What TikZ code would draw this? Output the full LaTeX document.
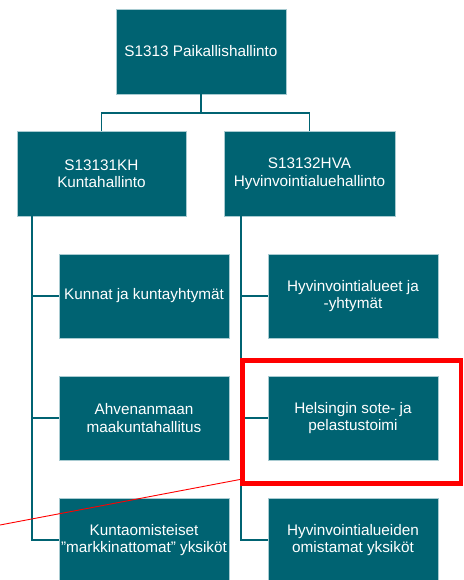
\documentclass[tikz,border=0pt]{standalone}
\usepackage{fontspec}
\setmainfont{Liberation Sans}
\definecolor{teal1}{HTML}{006372}
\definecolor{edge1}{HTML}{A8CBD1}
\begin{document}
\begin{tikzpicture}[x=1pt,y=-1pt,
  box/.style={rectangle, fill=teal1, draw=edge1, line width=0.5pt, text=white,
    align=center, inner sep=0pt, outer sep=0pt, anchor=north west,
    font=\fontsize{15.3}{17.5}\selectfont},
  bigbox/.style={box, minimum width=170pt, minimum height=85pt},
  smallbox/.style={box, minimum width=170pt, minimum height=84pt},
  conn/.style={draw=teal1, line width=1.8pt},
  hilite/.style={draw=red, line width=4.5pt, inner sep=0pt, outer sep=0pt}]
\useasboundingbox (0,0) rectangle (463,580);
\clip (0,0) rectangle (463,580);
% boxes
\node[bigbox] (top) at (116,9) {S1313 Paikallishallinto};
\node[bigbox, minimum width=169pt] (kh) at (17,131) {S13131KH\\Kuntahallinto};
\node[bigbox, minimum width=171pt] (hva) at (224,131) {S13132HVA\\Hyvinvointialuehallinto};
\node[smallbox] (k1) at (59,254) {Kunnat ja kuntayhtymät};
\node[smallbox] (k2) at (59,376) {Ahvenanmaan\\maakuntahallitus};
\node[smallbox] (k3) at (59,498) {Kuntaomisteiset\\”markkinattomat” yksiköt};
\node[smallbox] (h1) at (268,254) {Hyvinvointialueet ja\\-yhtymät};
\node[smallbox] (h2) at (268,376) {Helsingin sote- ja\\pelastustoimi};
\node[smallbox] (h3) at (268,498) {Hyvinvointialueiden\\omistamat yksiköt};
% top connectors
\path (top.south) ++(0,19) coordinate (j);
\draw[conn] (top.south) -- (j);
\draw[conn] (kh.north) |- (j) -| (hva.north);
% left branch
\path (kh.south west) ++(15,0) coordinate (lv);
\draw[conn] (lv) |- (k3.west);
\draw[conn] (lv |- k1.west) -- (k1.west);
\draw[conn] (lv |- k2.west) -- (k2.west);
% right branch
\path (hva.south west) ++(17,0) coordinate (rv);
\draw[conn] (rv) |- (h3.west);
\draw[conn] (rv |- h1.west) -- (h1.west);
\draw[conn] (rv |- h2.west) -- (h2.west);
% highlight
\node[hilite, minimum width=218.5pt, minimum height=123pt] (hl) at (351.75,422) {};
\coordinate (re) at (0,525);
\draw[red, line width=0.9pt] ([yshift=4.5pt]hl.south west) -- (re);
\end{tikzpicture}
\end{document}
